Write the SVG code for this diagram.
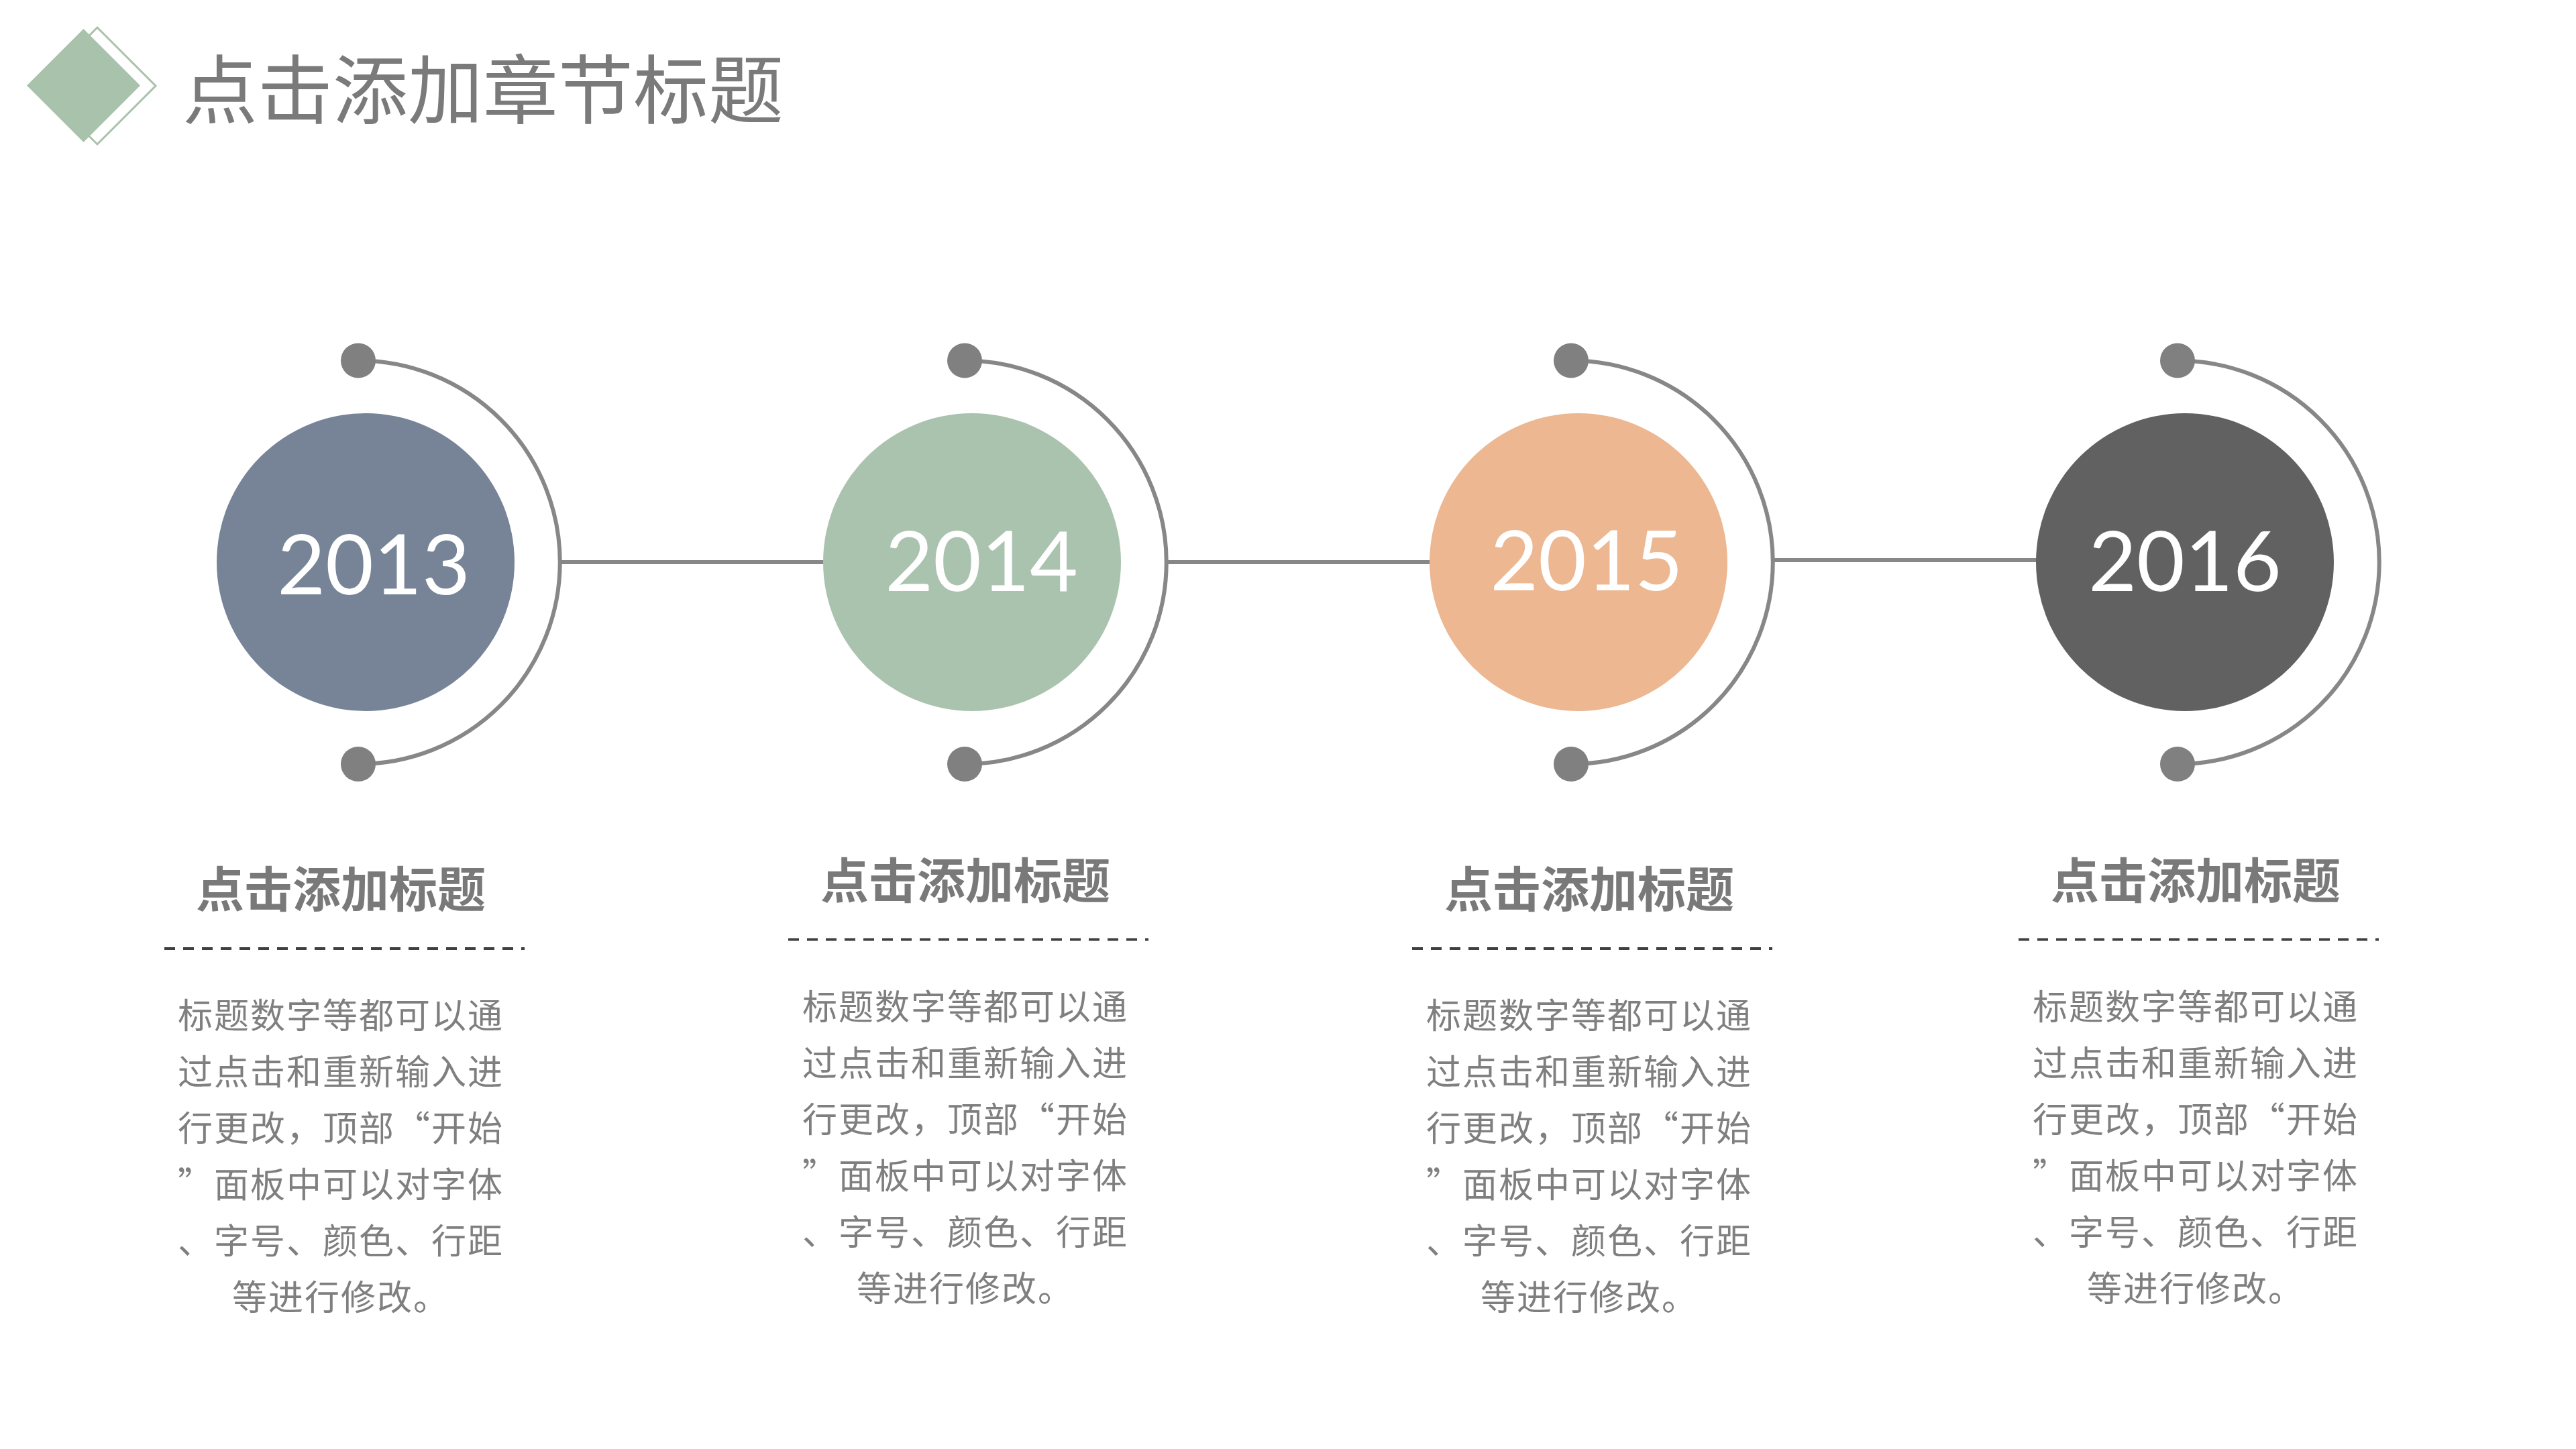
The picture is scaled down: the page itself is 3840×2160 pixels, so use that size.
<svg xmlns="http://www.w3.org/2000/svg" width="3840" height="2160" viewBox="0 0 3840 2160">
<style>
.title{font-family:"Noto Sans CJK SC","Noto Sans",sans-serif;font-size:112px;fill:#7a7a7a;font-weight:400}
.year{font-family:Lato,"Open Sans",sans-serif;font-size:124px;font-weight:400;fill:#ffffff;text-anchor:middle}
.head{font-family:"Noto Sans CJK SC",sans-serif;font-size:72px;font-weight:700;fill:#797979;text-anchor:middle}
.para{font-family:"Noto Sans CJK SC",sans-serif;font-size:52px;fill:#7f7f7f;text-anchor:middle;letter-spacing:2px}
.arc{fill:none;stroke:#878787;stroke-width:6}
.dot{fill:#808080}
.link{stroke:#878787;stroke-width:6;fill:none}
.dash{stroke:#404040;stroke-width:4;stroke-dasharray:16 12;fill:none}
</style>
<rect width="3840" height="2160" fill="#ffffff"/>
<g id="header">
<polygon points="145,41 232,128 145,215 58,128" fill="none" stroke="#a9c2ab" stroke-width="3"/>
<polygon points="124.5,43 209,127.5 124.5,212 40,127.5" fill="#a9c2ab"/>
<text class="title" x="272" y="176">点击添加章节标题</text>
</g>
<g id="connectors">
<line class="link" x1="835" y1="838" x2="1230" y2="838"/>
<line class="link" x1="1739" y1="838" x2="2133" y2="838"/>
<line class="link" x1="2642" y1="835" x2="3037" y2="835"/>
</g>
<g id="node-2013">
<path class="arc" d="M534,537.5 A300.75,300.75 0 0 1 534,1139"/>
<circle class="dot" cx="534" cy="537.5" r="26"/>
<circle class="dot" cx="534" cy="1139" r="26"/>
<circle cx="545" cy="838" r="222" fill="#778497"/>
<text class="year" x="557" y="886">2013</text>
</g>
<g id="node-2014">
<path class="arc" d="M1438,537.5 A300.75,300.75 0 0 1 1438,1139"/>
<circle class="dot" cx="1438" cy="537.5" r="26"/>
<circle class="dot" cx="1438" cy="1139" r="26"/>
<circle cx="1449" cy="838" r="222" fill="#aac3ae"/>
<text class="year" x="1463" y="881">2014</text>
</g>
<g id="node-2015">
<path class="arc" d="M2342,537.5 A300.75,300.75 0 0 1 2342,1139"/>
<circle class="dot" cx="2342" cy="537.5" r="26"/>
<circle class="dot" cx="2342" cy="1139" r="26"/>
<circle cx="2353" cy="838" r="222" fill="#ecb791"/>
<text class="year" x="2365" y="880">2015</text>
</g>
<g id="node-2016">
<path class="arc" d="M3246,537.5 A300,300 0 0 1 3246,1139"/>
<circle class="dot" cx="3246" cy="537.5" r="26"/>
<circle class="dot" cx="3246" cy="1139" r="26"/>
<circle cx="3257" cy="838" r="222" fill="#616161"/>
<text class="year" x="3257" y="881">2016</text>
</g>
<g id="block-1">
<text class="head" x="508" y="1352">点击添加标题</text>
<line class="dash" x1="245" y1="1414" x2="782" y2="1414"/>
<text class="para" x="508" y="1533">标题数字等都可以通</text>
<text class="para" x="508" y="1617">过点击和重新输入进</text>
<text class="para" x="508" y="1701">行更改，顶部“开始</text>
<text class="para" x="508" y="1785">”面板中可以对字体</text>
<text class="para" x="508" y="1869">、字号、颜色、行距</text>
<text class="para" x="508" y="1953">等进行修改。</text>
</g>
<g id="block-2">
<text class="head" x="1439" y="1339">点击添加标题</text>
<line class="dash" x1="1175" y1="1400.5" x2="1712" y2="1400.5"/>
<text class="para" x="1439" y="1520">标题数字等都可以通</text>
<text class="para" x="1439" y="1604">过点击和重新输入进</text>
<text class="para" x="1439" y="1688">行更改，顶部“开始</text>
<text class="para" x="1439" y="1772">”面板中可以对字体</text>
<text class="para" x="1439" y="1856">、字号、颜色、行距</text>
<text class="para" x="1439" y="1940">等进行修改。</text>
</g>
<g id="block-3">
<text class="head" x="2369" y="1352">点击添加标题</text>
<line class="dash" x1="2105" y1="1414" x2="2642" y2="1414"/>
<text class="para" x="2369" y="1533">标题数字等都可以通</text>
<text class="para" x="2369" y="1617">过点击和重新输入进</text>
<text class="para" x="2369" y="1701">行更改，顶部“开始</text>
<text class="para" x="2369" y="1785">”面板中可以对字体</text>
<text class="para" x="2369" y="1869">、字号、颜色、行距</text>
<text class="para" x="2369" y="1953">等进行修改。</text>
</g>
<g id="block-4">
<text class="head" x="3273" y="1339">点击添加标题</text>
<line class="dash" x1="3009" y1="1400.5" x2="3546" y2="1400.5"/>
<text class="para" x="3273" y="1520">标题数字等都可以通</text>
<text class="para" x="3273" y="1604">过点击和重新输入进</text>
<text class="para" x="3273" y="1688">行更改，顶部“开始</text>
<text class="para" x="3273" y="1772">”面板中可以对字体</text>
<text class="para" x="3273" y="1856">、字号、颜色、行距</text>
<text class="para" x="3273" y="1940">等进行修改。</text>
</g>
</svg>
